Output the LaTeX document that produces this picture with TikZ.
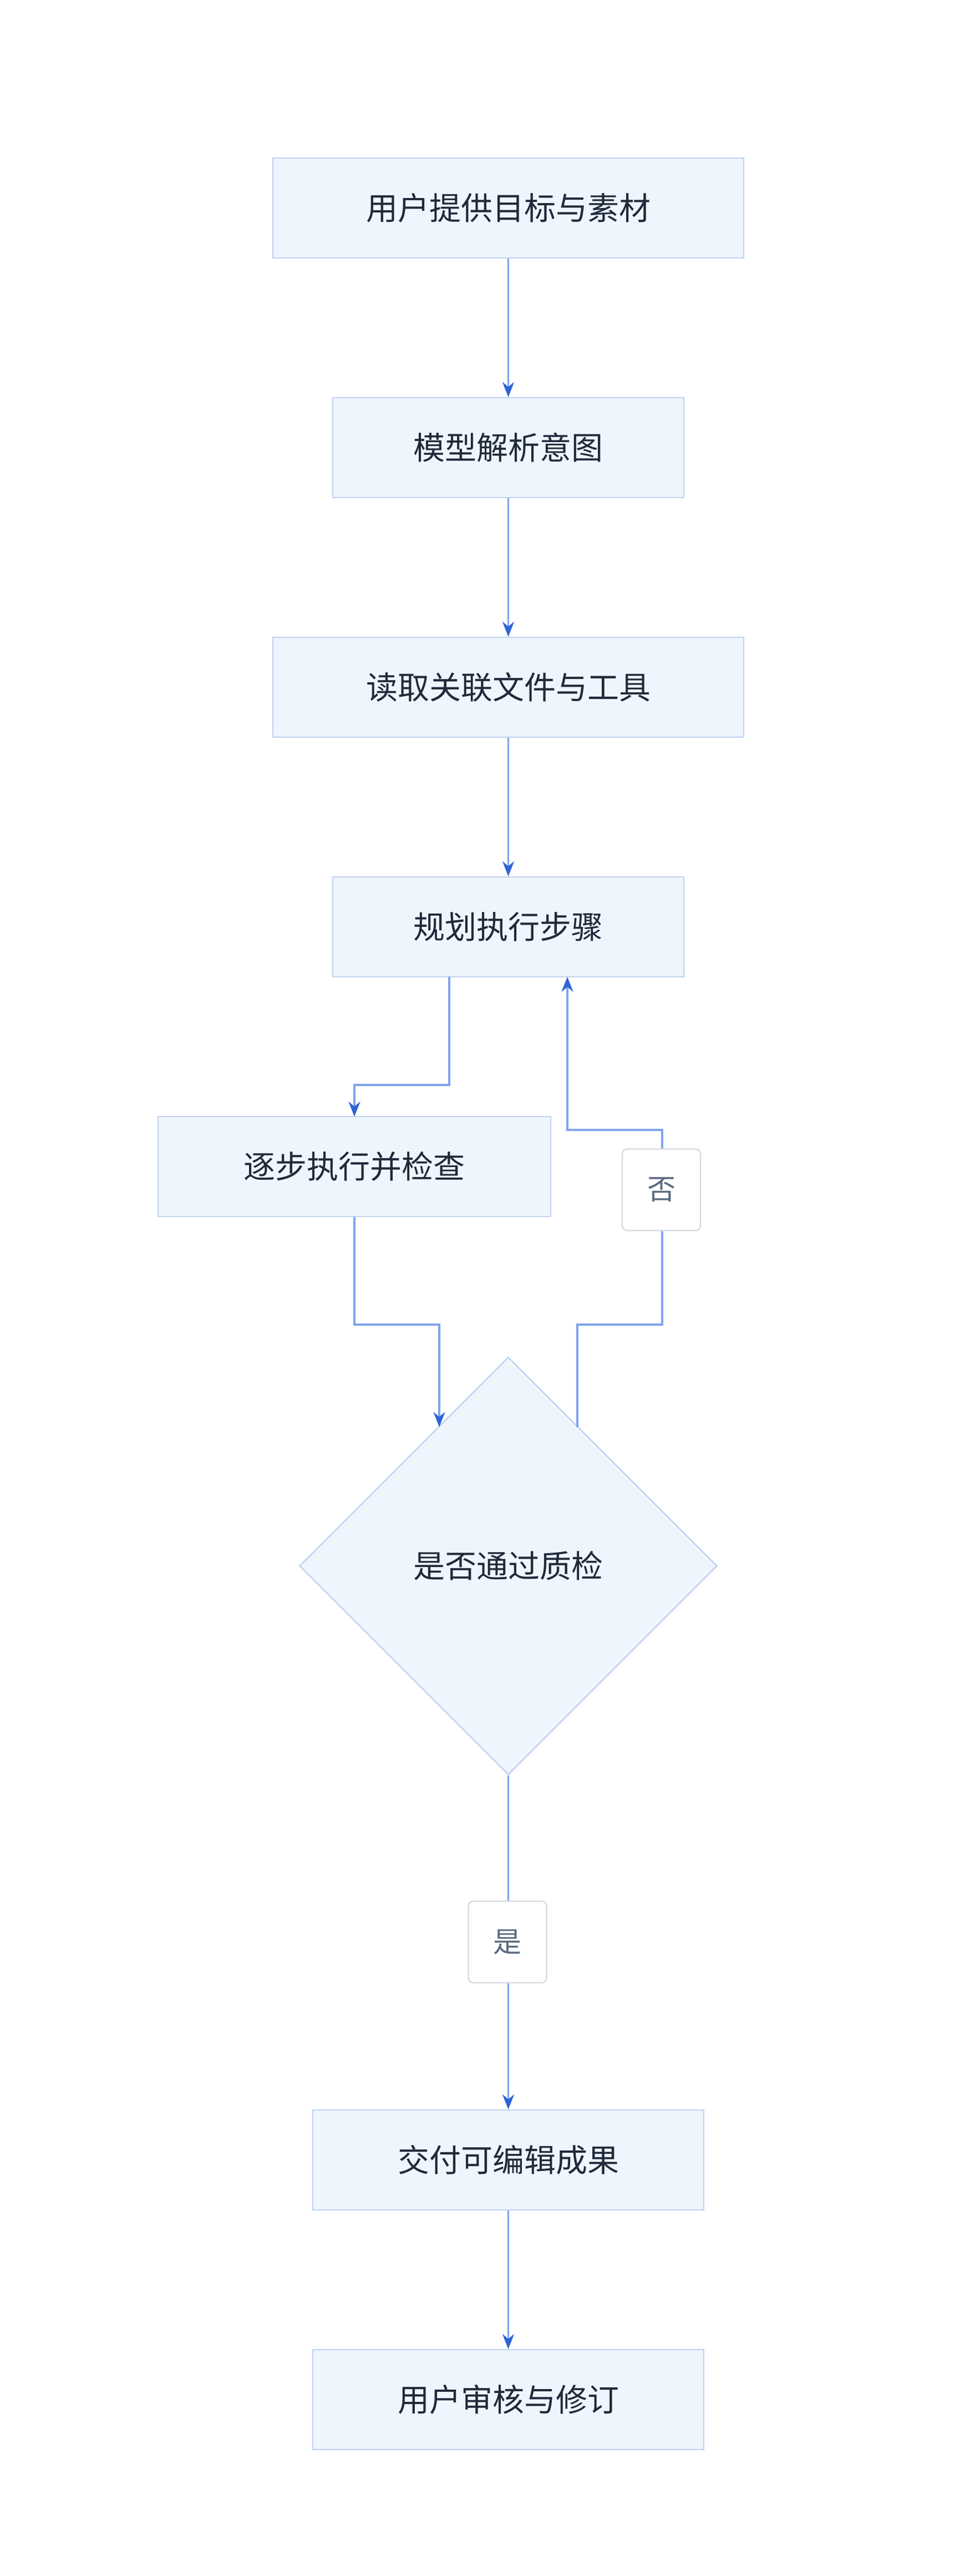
\documentclass[tikz,border=0pt]{standalone}
\usepackage{fontspec}
\setmainfont{Noto Sans CJK SC}
\usetikzlibrary{arrows.meta,shapes.geometric}
\definecolor{nfill}{HTML}{EFF5FD}
\definecolor{nbord}{HTML}{BFD2F0}
\definecolor{lcol}{HTML}{7FA4EC}
\definecolor{acol}{HTML}{2F63D8}
\definecolor{tcol}{HTML}{1F2A3A}
\definecolor{lbtext}{HTML}{5A6A80}
\definecolor{lbbord}{HTML}{D5DAE2}
\begin{document}
\begin{tikzpicture}[x=1pt,y=-1pt,
 box/.style={draw=nbord,fill=nfill,line width=0.8pt,inner sep=0pt,text=tcol,font=\fontsize{19}{22}\selectfont},
 lbl/.style={draw=lbbord,fill=white,rounded corners=3pt,line width=0.8pt,minimum width=47pt,minimum height=49pt,inner sep=0pt,text=lbtext,font=\fontsize{17}{20}\selectfont},
 edge/.style={draw=lcol,line width=1.1pt,-{Stealth[length=9pt,width=7pt,color=acol]}},
 line/.style={draw=lcol,line width=1.1pt}]
\useasboundingbox (0,0) rectangle (580,1548);
\node[box,minimum width=283pt,minimum height=60pt] (n1) at (305.5,125) {用户提供目标与素材};
\node[box,minimum width=211pt,minimum height=60pt] (n2) at (305.5,269) {模型解析意图};
\node[box,minimum width=283pt,minimum height=60pt] (n3) at (305.5,413) {读取关联文件与工具};
\node[box,minimum width=211pt,minimum height=60pt] (n4) at (305.5,557) {规划执行步骤};
\node[box,minimum width=236pt,minimum height=60pt] (n5) at (213,701) {逐步执行并检查};
\node[box,diamond,aspect=1,minimum width=251pt,minimum height=251pt] (d) at (305.5,941) {是否通过质检};
\node[box,minimum width=235pt,minimum height=60pt] (n6) at (305.5,1298) {交付可编辑成果};
\node[box,minimum width=235pt,minimum height=60pt] (n7) at (305.5,1442) {用户审核与修订};
\coordinate (a1) at (270,587);
\coordinate (a2) at (213,671);
\coordinate (b1) at (264,857.5);
\coordinate (c1) at (347,857.5);
\coordinate (c2) at (341,587);
\draw[edge] (n1) -- (n2);
\draw[edge] (n2) -- (n3);
\draw[edge] (n3) -- (n4);
\draw[edge] (a1) -- (270,652) -- (213,652) -- (a2);
\draw[edge] (n5.south) -- (213,796) -- (264,796) -- (b1);
\draw[edge] (c1) -- (347,796) -- (398,796) -- (398,679) -- (341,679) -- (c2);
\draw[edge] (d.south) -- (n6.north);
\draw[edge] (n6) -- (n7);
\node[lbl] (l1) at (397.5,715) {否};
\node[lbl] (l2) at (305,1167) {是};
\end{tikzpicture}
\end{document}
